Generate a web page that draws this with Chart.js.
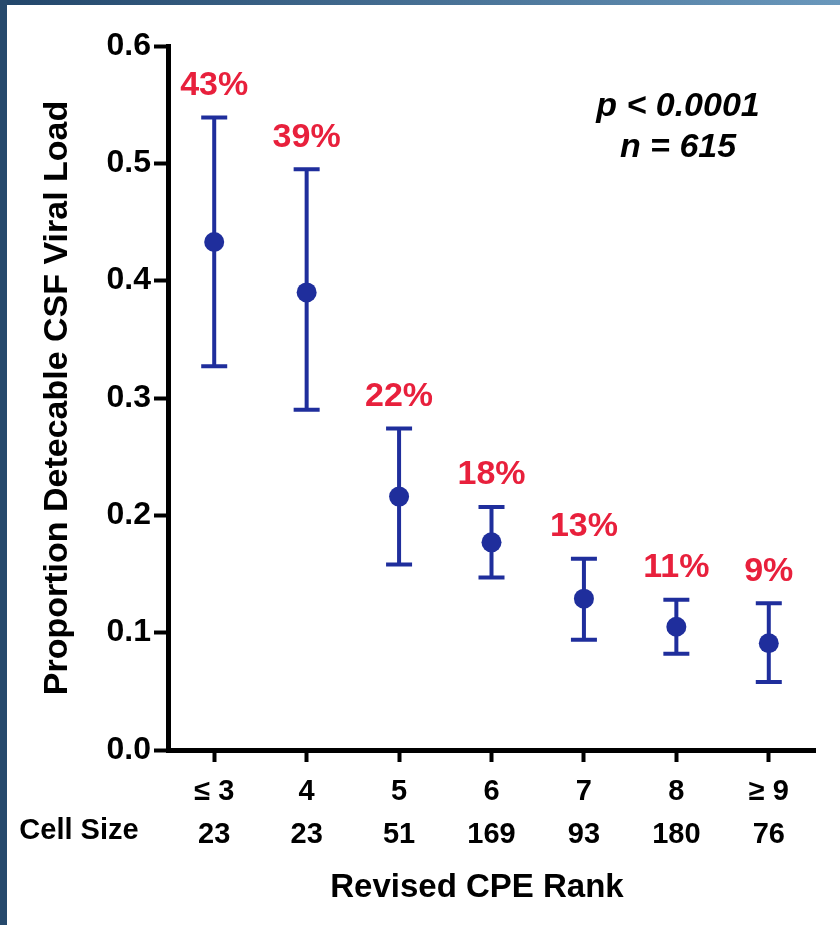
<!DOCTYPE html>
<html>
<head>
<meta charset="utf-8">
<script src="https://cdn.jsdelivr.net/npm/chart.js@4"></script>
<style>
  html, body { margin: 0; padding: 0; background: #fff; }
  #wrap { width: 840px; height: 925px; }
</style>
</head>
<body>
<div id="wrap"><canvas id="cpe-chart" width="840" height="925"></canvas></div>
<script>
// data
const cpeRanks = ['≤ 3', '4', '5', '6', '7', '8', '≥ 9'];
const cellSizes = ['23', '23', '51', '169', '93', '180', '76'];
const proportion = [0.433, 0.390, 0.216, 0.177, 0.129, 0.105, 0.091];
const ciLow = [0.327, 0.290, 0.158, 0.147, 0.094, 0.082, 0.058];
const ciHigh = [0.539, 0.495, 0.274, 0.207, 0.163, 0.128, 0.125];
const pctLabels = ['43%', '39%', '22%', '18%', '13%', '11%', '9%'];
const yTicks = [0, 0.1, 0.2, 0.3, 0.4, 0.5, 0.6];

const FONT = '"Liberation Sans", Arial, sans-serif';
const BLUE = '#1f2e9c';
const RED = '#e8203c';

// frame strips + white background
const framePlugin = {
    id: 'frame',
    beforeDraw(chart) {
        const ctx = chart.ctx;
        ctx.save();
        ctx.fillStyle = '#fff';
        ctx.fillRect(0, 0, chart.width, chart.height);
        let g = ctx.createLinearGradient(0, 0, chart.width, 0);
        g.addColorStop(0, '#22466a');
        g.addColorStop(1, '#6a98bc');
        ctx.fillStyle = g;
        ctx.fillRect(0, 0, chart.width, 5);
        ctx.fillStyle = '#26496c';
        ctx.fillRect(0, 0, 7, chart.height);
        ctx.restore();
    }
};

// error bars under the points, labels and notes on top
const errorBars = {
    id: 'errorBars',
    beforeDatasetsDraw(chart) {
        const ctx = chart.ctx, x = chart.scales.x, y = chart.scales.y;
        ctx.save();
        ctx.strokeStyle = BLUE;
        ctx.lineWidth = 4;
        ctx.lineCap = 'butt';
        for (let i = 0; i < proportion.length; i++) {
            const px = x.getPixelForValue(i);
            const top = y.getPixelForValue(ciHigh[i]);
            const bot = y.getPixelForValue(ciLow[i]);
            ctx.beginPath();
            ctx.moveTo(px, top); ctx.lineTo(px, bot);
            ctx.moveTo(px - 13, top); ctx.lineTo(px + 13, top);
            ctx.moveTo(px - 13, bot); ctx.lineTo(px + 13, bot);
            ctx.stroke();
        }
        ctx.restore();
    },
    afterDatasetsDraw(chart) {
        const ctx = chart.ctx, x = chart.scales.x, y = chart.scales.y;
        ctx.save();
        ctx.fillStyle = RED;
        ctx.font = 'bold 34px ' + FONT;
        ctx.textAlign = 'center';
        ctx.textBaseline = 'middle';
        for (let i = 0; i < pctLabels.length; i++) {
            ctx.fillText(pctLabels[i], x.getPixelForValue(i), y.getPixelForValue(ciHigh[i]) - 32);
        }
        ctx.restore();
    },
    afterDraw(chart) {
        const ctx = chart.ctx;
        ctx.save();
        ctx.fillStyle = '#000';
        ctx.textAlign = 'center';
        ctx.textBaseline = 'middle';
        ctx.font = 'bold 29px ' + FONT;
        ctx.fillText('Cell Size', 79, 831);
        ctx.font = 'bold 33px ' + FONT;
        ctx.fillText('Revised CPE Rank', 477, 888);
        ctx.font = 'italic bold 34px ' + FONT;
        ctx.fillText('p < 0.0001', 678, 107);
        ctx.fillText('n = 615', 678, 148);
        ctx.restore();
    }
};

new Chart(document.getElementById('cpe-chart'), {
    type: 'line',
    data: {
        labels: cpeRanks.map((r, i) => [r, cellSizes[i]]),
        datasets: [{
            data: proportion,
            showLine: false,
            pointRadius: 10,
            pointBackgroundColor: BLUE,
            pointBorderColor: BLUE,
            pointBorderWidth: 0
        }]
    },
    options: {
        responsive: false,
        animation: false,
        layout: { padding: { left: 0, right: 25, top: 46, bottom: 60 } },
        plugins: { legend: { display: false }, tooltip: { enabled: false } },
        scales: {
            x: {
                offset: true,
                border: { display: true, color: '#000', width: 5 },
                grid: { drawOnChartArea: false, tickLength: 12, tickWidth: 4, tickColor: '#000' },
                ticks: { color: '#000', padding: 8, font: { family: FONT, weight: 'bold', size: 29, lineHeight: 1.5 }, maxRotation: 0 }
            },
            y: {
                min: 0, max: 0.6,
                afterFit(s) { s.width = 168; },
                afterBuildTicks(s) { s.ticks = yTicks.map(v => ({ value: v })); },
                border: { display: true, color: '#000', width: 5 },
                grid: { drawOnChartArea: false, tickLength: 14, tickWidth: 4, tickColor: '#000' },
                ticks: { color: '#000', padding: 3, font: { family: FONT, weight: 'bold', size: 32 }, callback: v => v.toFixed(1) },
                title: { display: true, text: 'Proportion Detecable CSF Viral Load', color: '#000', padding: { top: 37, bottom: 0 }, font: { family: FONT, weight: 'bold', size: 34 } }
            }
        }
    },
    plugins: [framePlugin, errorBars]
});
</script>
</body>
</html>
